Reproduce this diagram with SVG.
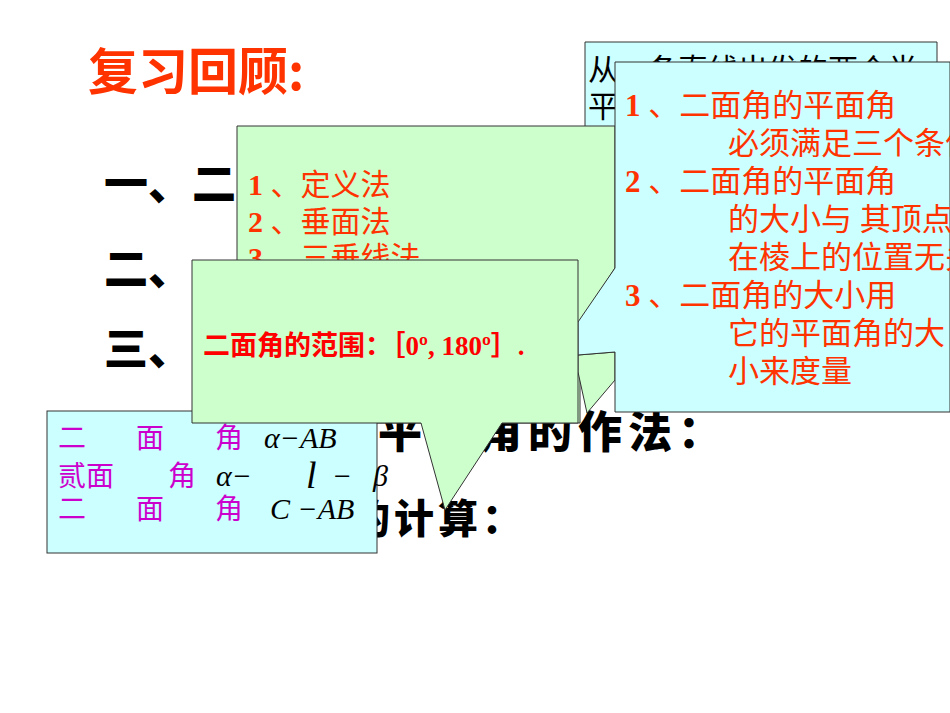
<svg xmlns="http://www.w3.org/2000/svg" width="950" height="713" viewBox="0 0 950 713">
<style>
.bg{font-family:"Noto Sans CJK SC",sans-serif;font-weight:900;fill:#000}
.t{font-family:"Liberation Serif","Noto Sans CJK SC",serif}
.n{font-weight:bold}
.g{fill:#CCFFCC;stroke:#333;stroke-width:1}
.b{fill:#CCFFFF;stroke:#333;stroke-width:1}
.o{fill:#FF3300}
.m{font-family:"Liberation Serif",serif;font-style:italic}
</style>
<rect width="950" height="713" fill="#fff"/>
<g id="background">
<text x="88" y="90" font-size="50" style="font-family:'Noto Sans CJK SC',sans-serif;font-weight:bold;fill:#FF3300">复习回顾:</text>
<text x="104" y="200" font-size="44" class="bg">一、二</text>
<text x="104" y="285" font-size="44" class="bg">二、</text>
<text x="104" y="365" font-size="44" class="bg">三、</text>
<text x="378" y="448" font-size="44" letter-spacing="6" class="bg">平面角的作法：</text>
<text x="218" y="533" font-size="40" letter-spacing="4" class="bg">二面角的计算：</text>
</g>
<g id="box-definition">
<polygon class="b" points="585,42 937,42 937,246 585,246 585,210 528,190 585,172"/>
<text class="t" font-size="30" x="588" y="80">从一条直线出发的两个半</text>
<text class="t" font-size="30" x="588" y="117">平</text>
<text class="t" font-size="30" x="588" y="155" fill="#333399">面</text>
<text class="t" font-size="30" x="588" y="193" fill="#333399">角</text>
<text class="t" font-size="30" x="533" y="231">做<tspan fill="#333399">二面</tspan></text>
</g>
<g id="box-methods">
<polygon class="g" points="237,126 615,126 615,268 580,322 580,423 237,423"/>
<polygon class="g" points="578,355 615,352 615,380 587,413 578,372"/>
<text class="t o" font-size="30" x="248" y="195"><tspan class="n">1</tspan> 、定义法</text>
<text class="t o" font-size="30" x="248" y="232"><tspan class="n">2</tspan> 、垂面法</text>
<text class="t o" font-size="30" x="248" y="268"><tspan class="n">3</tspan> 、三垂线法</text>
</g>
<g id="box-properties">
<polygon class="b" points="615,62 950,62 950,412 615,412 615,352 578,355 578,322 615,268"/>
<text class="t o" font-size="31" x="625" y="116"><tspan class="n">1</tspan> 、二面角的平面角</text>
<text class="t o" font-size="31" x="728" y="154">必须满足三个条件</text>
<text class="t o" font-size="31" x="625" y="192"><tspan class="n">2</tspan> 、二面角的平面角</text>
<text class="t o" font-size="31" x="728" y="230">的大小与 其顶点</text>
<text class="t o" font-size="31" x="728" y="268">在棱上的位置无关</text>
<text class="t o" font-size="31" x="625" y="306"><tspan class="n">3</tspan> 、二面角的大小用</text>
<text class="t o" font-size="31" x="728" y="344">它的平面角的大</text>
<text class="t o" font-size="31" x="728" y="382">小来度量</text>
</g>
<g id="box-notation">
<rect class="b" x="47" y="411" width="330" height="142"/>
<text class="t" font-size="28" x="58" y="448" fill="#CC00CC">二<tspan x="136">面</tspan><tspan x="215">角</tspan></text>
<text class="m" font-size="30" x="264" y="448">α−AB</text>
<text class="t" font-size="28" x="58" y="486" fill="#CC00CC">贰面<tspan x="168">角</tspan></text>
<text class="m" font-size="30" x="216" y="486">α−</text>
<text class="m" font-size="38" x="306" y="488">l</text>
<text class="m" font-size="30" x="332" y="486">−</text>
<text class="m" font-size="30" x="373" y="486">β</text>
<text class="t" font-size="28" x="58" y="519" fill="#CC00CC">二<tspan x="136">面</tspan><tspan x="215">角</tspan></text>
<text class="m" font-size="30" x="270" y="519">C −AB</text>
</g>
<g id="box-range">
<polygon class="g" points="192,260 578,260 578,423 502,423 445,510 421,423 192,423"/>
<text class="t n" font-size="27" x="203" y="355" fill="#FF0000">二面角的范围：［0º, 180º］.</text>
</g>
<g id="connectors"/>
</svg>
